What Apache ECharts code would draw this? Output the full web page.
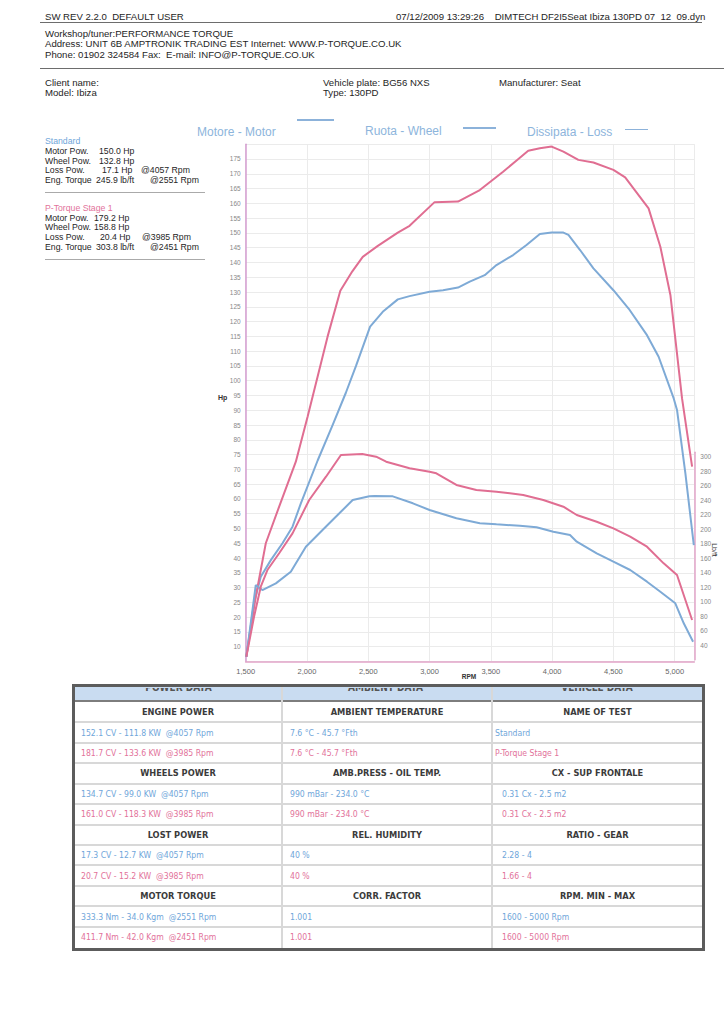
<!DOCTYPE html>
<html><head><meta charset="utf-8">
<script src="https://cdn.jsdelivr.net/npm/echarts/dist/echarts.min.js"></script>
<style>
html,body{margin:0;padding:0;background:#fff;}
body{width:724px;height:1024px;position:relative;overflow:hidden;}
#chart{position:absolute;left:0;top:0;width:724px;height:1024px;}
.t{position:absolute;white-space:pre;font-family:'Liberation Sans',Arial,sans-serif;font-size:9.6px;line-height:12px;color:#1e1e1e;}
.lp{font-size:8.7px;color:#262626;}
.hl{position:absolute;height:1px;background:#6d6d6d;}
.blue{color:#6fa6da}
.pink{color:#e2729a}
.tb{position:absolute;white-space:pre;font-family:'DejaVu Sans Condensed','DejaVu Sans',sans-serif;font-size:8.6px;line-height:12px;}
.th{font-weight:bold;color:#3b3b3b;font-size:9.2px;text-align:center;width:210px;}
.leg{position:absolute;white-space:pre;font-family:'Liberation Sans',Arial,sans-serif;font-size:12px;line-height:14px;color:#8db5dc;}
.lline{position:absolute;height:2px;background:#8cb2da;}
</style></head><body>
<div id="chart"></div>

<div class="t" style="left:45px;top:11px">SW REV 2.2.0  DEFAULT USER</div>
<div class="t" style="left:396px;top:11px">07/12/2009 13:29:26    DIMTECH DF2I5Seat Ibiza 130PD 07  12  09.dyn</div>
<div class="hl" style="left:40px;top:22px;width:662px"></div>
<div class="t" style="left:45px;top:28px">Workshop/tuner:PERFORMANCE TORQUE</div>
<div class="t" style="left:45px;top:38px">Address: UNIT 6B AMPTRONIK TRADING EST Internet: WWW.P-TORQUE.CO.UK</div>
<div class="t" style="left:45px;top:49px">Phone: 01902 324584 Fax:  E-mail: INFO@P-TORQUE.CO.UK</div>
<div class="hl" style="left:40px;top:68px;width:684px"></div>
<div class="t" style="left:45px;top:77px">Client name:</div>
<div class="t" style="left:45px;top:87px">Model: Ibiza</div>
<div class="t" style="left:323px;top:77px">Vehicle plate: BG56 NXS</div>
<div class="t" style="left:323px;top:87px">Type: 130PD</div>
<div class="t" style="left:499px;top:77px">Manufacturer: Seat</div>

<div class="t lp blue" style="left:45px;top:135px;color:#6fa6da">Standard</div>
<div class="t lp" style="left:45px;top:145px">Motor Pow.</div><div class="t lp" style="left:99px;top:145px">150.0 Hp</div>
<div class="t lp" style="left:45px;top:155px">Wheel Pow.</div><div class="t lp" style="left:99px;top:155px">132.8 Hp</div>
<div class="t lp" style="left:45px;top:164px">Loss Pow.</div><div class="t lp" style="left:102px;top:164px">17.1 Hp</div><div class="t lp" style="left:141px;top:164px">@4057 Rpm</div>
<div class="t lp" style="left:45px;top:174px">Eng. Torque</div><div class="t lp" style="left:96px;top:174px">245.9 lb/ft</div><div class="t lp" style="left:150px;top:174px">@2551 Rpm</div>
<div class="hl" style="left:45px;top:192px;width:160px;background:#aaa"></div>
<div class="t lp" style="left:45px;top:202px;color:#e2729a">P-Torque Stage 1</div>
<div class="t lp" style="left:45px;top:212px">Motor Pow.</div><div class="t lp" style="left:94px;top:212px">179.2 Hp</div>
<div class="t lp" style="left:45px;top:221px">Wheel Pow.</div><div class="t lp" style="left:94px;top:221px">158.8 Hp</div>
<div class="t lp" style="left:45px;top:231px">Loss Pow.</div><div class="t lp" style="left:100px;top:231px">20.4 Hp</div><div class="t lp" style="left:142px;top:231px">@3985 Rpm</div>
<div class="t lp" style="left:45px;top:241px">Eng. Torque</div><div class="t lp" style="left:96px;top:241px">303.8 lb/ft</div><div class="t lp" style="left:150px;top:241px">@2451 Rpm</div>
<div class="hl" style="left:45px;top:259px;width:160px;background:#aaa"></div>

<div class="leg" style="left:197px;top:125px">Motore - Motor</div>
<div class="lline" style="left:297px;top:119px;width:37px"></div>
<div class="leg" style="left:365px;top:124px">Ruota - Wheel</div>
<div class="lline" style="left:463px;top:127px;width:33px"></div>
<div class="leg" style="left:527px;top:125px">Dissipata - Loss</div>
<div class="lline" style="left:625px;top:129px;width:23px;height:1px"></div>

<div class="t" style="left:218px;top:392px;font-size:7px;font-weight:bold;color:#333">Hp</div>
<div class="t" style="left:455px;top:671px;font-size:6.5px;font-weight:bold;color:#333;width:28px;text-align:center">RPM</div>
<div class="t" style="left:700px;top:544px;font-size:7px;color:#333;width:28px;text-align:center;transform:rotate(90deg)">Lb/ft</div>

<div id="table"></div>

<script>
// ---- chart data (read from the dyno sheet) ----
const rpmStage1Motor = [1505,1582,1664,1773,1909,2005,2168,2272,2370,2455,2578,2741,2837,3041,3232,3410,3600,3710,3805,3900,3996,4092,4214,4337,4500,4596,4787,4883,4965,5060,5142];
const hpStage1Motor  = [6.6,26.9,45,57.4,72.6,87.8,114.9,130.4,137,141.9,145.6,150.1,152.4,160.4,160.6,164.5,170.7,174.5,177.8,178.6,179.2,177.5,174.7,173.8,171.3,168.8,158.3,145.3,129,94,70.9];

const rpmStdMotor = [1505,1568,1623,1705,1800,1882,1950,2087,2209,2318,2400,2515,2618,2741,2837,3000,3110,3232,3328,3450,3546,3682,3791,3900,3996,4092,4133,4228,4337,4500,4624,4774,4869,4992,5019,5087,5156];
const hpStdMotor  = [6.6,24.7,33.7,39.3,45,50.6,58.5,73,85,96,105,118.3,123.3,127.5,128.6,130.1,130.6,131.5,133.5,135.7,139.1,142.5,145.9,149.6,150.1,150.1,149.3,144.2,138,130.6,124.4,115.4,108.1,94,90.1,68.7,44.4];

const rpmStage1Torque  = [1505,1568,1623,1677,1773,1882,2018,2155,2277,2451,2564,2646,2837,3000,3055,3219,3382,3546,3655,3764,3928,4092,4201,4364,4500,4637,4774,4910,5019,5142];
const lbftStage1Torque = [24,79.3,120.7,143.7,166.8,194.3,240.3,272.4,302.3,303.8,300,293.1,284,279.3,277.1,261,254.1,251.7,249.5,247.2,240.3,231,219.6,210.3,201.2,189.7,175.9,152.9,136.8,74.8];

const rpmStdTorque  = [1505,1582,1636,1746,1868,1991,2127,2264,2373,2509,2551,2700,2864,3000,3219,3410,3546,3737,3873,4010,4146,4201,4364,4500,4637,4774,4883,5005,5074,5150];
const lbftStdTorque = [24,123,116.1,125.3,141.4,175.9,198.9,221.9,240.3,245.5,245.9,245.3,235.7,226.5,215,208.1,206.7,204.8,202.6,196.6,192,182.8,166.8,155.2,143.7,127.6,113.8,97.8,70.2,44.8];

const rpmTicks = {min:1500, max:5160, step:500};
const hpTicks = {min:5, max:180, step:5};
const lbftTicks = {min:20, max:306, step:20};

// ---- table text ----
const tableHead = ['POWER DATA','AMBIENT DATA','VEHICLE DATA'];
const tableRows = [
 ['h','ENGINE POWER','AMBIENT TEMPERATURE','NAME OF TEST'],
 ['b','152.1 CV - 111.8 KW  @4057 Rpm','7.6 °C - 45.7 °Fth','Standard'],
 ['p','181.7 CV - 133.6 KW  @3985 Rpm','7.6 °C - 45.7 °Fth','P-Torque Stage 1'],
 ['h','WHEELS POWER','AMB.PRESS - OIL TEMP.','CX - SUP FRONTALE'],
 ['b','134.7 CV - 99.0 KW  @4057 Rpm','990 mBar - 234.0 °C','0.31 Cx - 2.5 m2'],
 ['p','161.0 CV - 118.3 KW  @3985 Rpm','990 mBar - 234.0 °C','0.31 Cx - 2.5 m2'],
 ['h','LOST POWER','REL. HUMIDITY','RATIO - GEAR'],
 ['b','17.3 CV - 12.7 KW  @4057 Rpm','40 %','2.28 - 4'],
 ['p','20.7 CV - 15.2 KW  @3985 Rpm','40 %','1.66 - 4'],
 ['h','MOTOR TORQUE','CORR. FACTOR','RPM. MIN - MAX'],
 ['b','333.3 Nm - 34.0 Kgm  @2551 Rpm','1.001','1600 - 5000 Rpm'],
 ['p','411.7 Nm - 42.0 Kgm  @2451 Rpm','1.001','1600 - 5000 Rpm']
];

// build table
(function(){
  const t = document.getElementById('table');
  let h = '';
  h += '<div style="position:absolute;left:72px;top:684px;width:633px;height:267px;border:3px solid #5c5c5c;box-sizing:border-box"></div>';
  h += '<div style="position:absolute;left:75px;top:687px;width:627px;height:13px;background:#c9dcf1"></div>';
  h += '<div style="position:absolute;left:75px;top:700px;width:627px;height:2px;background:#7d7d7d"></div>';
  const colL = [75, 282, 492];
  tableHead.forEach((s,i)=>{
    h += '<div style="position:absolute;overflow:hidden;left:'+colL[i]+'px;top:688px;width:'+(i==2?210:207)+'px;height:8px">'+
         '<div class="tb th" style="top:-6px;left:0;width:100%;font-size:10px;color:#555">'+s+'</div></div>';
  });
  for(let k=0;k<11;k++){
    const y = 722.2 + k*20.45 - 1;
    h += '<div style="position:absolute;left:75px;top:'+y.toFixed(1)+'px;width:627px;height:2px;background:#d8d8d8"></div>';
  }
  h += '<div style="position:absolute;left:281px;top:687px;width:2px;height:261px;background:#d8d8d8"></div>';
  h += '<div style="position:absolute;left:491px;top:687px;width:2px;height:261px;background:#d8d8d8"></div>';
  tableRows.forEach((r,i)=>{
    const cy = 712 + i*20.45, top = (cy-6).toFixed(1);
    if(r[0]==='h'){
      h += '<div class="tb th" style="left:75px;top:'+top+'px;width:206px">'+r[1]+'</div>';
      h += '<div class="tb th" style="left:283px;top:'+top+'px;width:208px">'+r[2]+'</div>';
      h += '<div class="tb th" style="left:493px;top:'+top+'px;width:209px">'+r[3]+'</div>';
    } else {
      const cls = r[0]==='b' ? 'blue' : 'pink';
      const x3 = (i<=2) ? 495 : 502;
      h += '<div class="tb '+cls+'" style="left:81px;top:'+top+'px">'+r[1]+'</div>';
      h += '<div class="tb '+cls+'" style="left:290px;top:'+top+'px">'+r[2]+'</div>';
      h += '<div class="tb '+cls+'" style="left:'+x3+'px;top:'+top+'px">'+r[3]+'</div>';
    }
  });
  t.innerHTML = h;
})();

const zip = (xs, ys) => xs.map((x,i)=>[x, ys[i]]);
const PINK = '#e06e92', BLUE = '#7eaad6', GRIDC = '#ebebeb', AXC = '#e2a4c8';

const chart = echarts.init(document.getElementById('chart'), null, {renderer:'svg'});
chart.setOption({
  animation:false,
  backgroundColor:'transparent',
  grid:[
    {left:245.7, right:29.7, top:144.2, bottom:362.5},
    {left:245.7, right:29.7, top:452.35, bottom:364.3}
  ],
  xAxis:[
    {gridIndex:0, type:'value', min:rpmTicks.min, max:rpmTicks.max, interval:rpmTicks.step,
     axisLine:{show:true, lineStyle:{color:AXC, width:1.5}}, axisTick:{show:false},
     axisLabel:{fontSize:7.5, color:'#666', margin:6, showMaxLabel:false, fontFamily:'Liberation Sans',
       formatter:v=>v.toLocaleString('en-US')},
     splitLine:{show:true, lineStyle:{color:GRIDC, width:1}}},
    {gridIndex:1, type:'value', min:rpmTicks.min, max:rpmTicks.max, interval:rpmTicks.step, show:false}
  ],
  yAxis:[
    {gridIndex:0, type:'value', position:'left', min:hpTicks.min, max:hpTicks.max, interval:hpTicks.step,
     axisLine:{show:true, lineStyle:{color:'#d49cd0', width:1.5}}, axisTick:{show:false},
     axisLabel:{fontSize:6.5, color:'#888', margin:5, showMinLabel:false, showMaxLabel:false, fontFamily:'Liberation Sans'},
     splitLine:{show:true, lineStyle:{color:GRIDC, width:1}}},
    {gridIndex:1, type:'value', position:'right', min:lbftTicks.min, max:lbftTicks.max, interval:lbftTicks.step,
     axisLine:{show:true, lineStyle:{color:AXC, width:1.5}}, axisTick:{show:false},
     axisLabel:{fontSize:6.5, color:'#888', margin:6, showMinLabel:false, showMaxLabel:false, fontFamily:'Liberation Sans'},
     splitLine:{show:false}}
  ],
  series:[
    {name:'Standard Motor', type:'line', xAxisIndex:0, yAxisIndex:0, data:zip(rpmStdMotor,hpStdMotor),
     symbol:'none', lineStyle:{color:BLUE, width:2}, itemStyle:{color:BLUE}},
    {name:'Stage 1 Motor', type:'line', xAxisIndex:0, yAxisIndex:0, data:zip(rpmStage1Motor,hpStage1Motor),
     symbol:'none', lineStyle:{color:PINK, width:2}, itemStyle:{color:PINK}},
    {name:'Standard Torque', type:'line', xAxisIndex:1, yAxisIndex:1, data:zip(rpmStdTorque,lbftStdTorque),
     symbol:'none', lineStyle:{color:BLUE, width:2}, itemStyle:{color:BLUE}},
    {name:'Stage 1 Torque', type:'line', xAxisIndex:1, yAxisIndex:1, data:zip(rpmStage1Torque,lbftStage1Torque),
     symbol:'none', lineStyle:{color:PINK, width:2}, itemStyle:{color:PINK}}
  ]
});
</script>
</body></html>
